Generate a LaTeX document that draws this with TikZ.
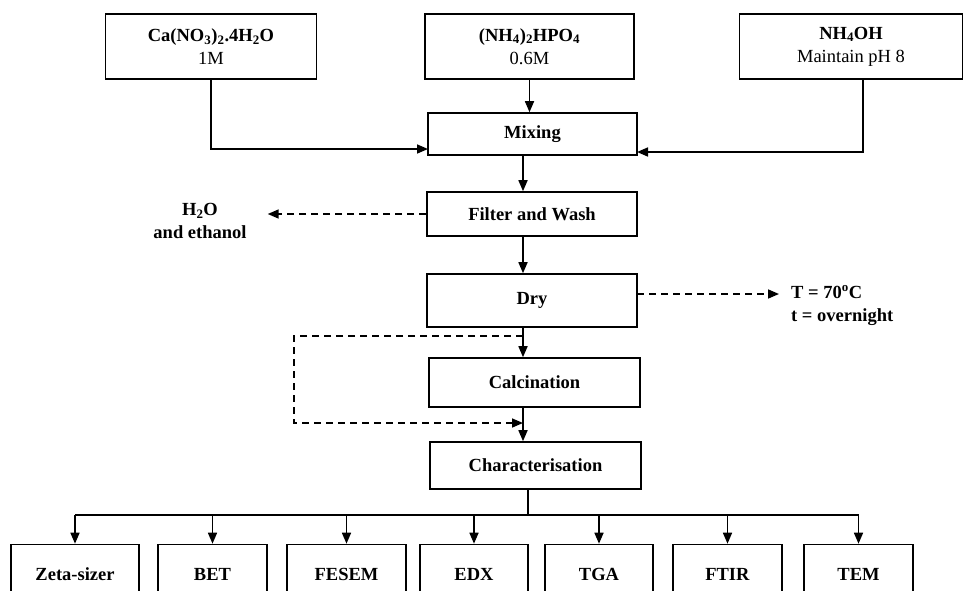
\documentclass[tikz,border=0pt]{standalone}
\usepackage{fontspec}
\setmainfont{Liberation Serif}
\usepackage{tikz}
\usetikzlibrary{arrows.meta,positioning,calc}

\tikzset{
    box/.style={draw, line width=1.6pt, inner sep=0pt, align=center},
    arr/.style={line width=1.6pt, -{Triangle[length=11pt,width=9pt]}},
    dasharr/.style={arr, dash pattern=on 7pt off 5pt},
    conn/.style={line width=1.6pt}
}

\begin{document}
\begin{tikzpicture}[x=1pt, y=-1pt, every node/.style={font=\fontsize{18.5}{23}\selectfont}]
    \useasboundingbox (0,0) rectangle (963,590);
    \clip (0,0) rectangle (963,590);

    % Inputs
    \node[box, minimum width=211pt, minimum height=65pt] (ca) at (211,46.5)
        {\textbf{Ca(NO\textsubscript{3})\textsubscript{2}.4H\textsubscript{2}O}\\1M};
    \node[box, minimum width=209pt, minimum height=65pt] (hpo) at (529.5,46.5)
        {\textbf{(NH\textsubscript{4})\textsubscript{2}HPO\textsubscript{4}}\\0.6M};
    \node[box, minimum width=223pt, minimum height=65pt] (oh) at (851,46.5)
        {\textbf{NH\textsubscript{4}OH}\\Maintain pH 8};

    % Process
    \node[box, minimum width=209pt, minimum height=42pt] (mix) at (532.5,134) {\textbf{Mixing}};
    \node[box, minimum width=210pt, minimum height=44pt] (filt) at (532,214) {\textbf{Filter and Wash}};
    \node[box, minimum width=210pt, minimum height=53pt] (dry) at (532,300.5) {\textbf{Dry}};
    \node[box, minimum width=211pt, minimum height=49pt] (calc) at (534.5,382.5) {\textbf{Calcination}};
    \node[box, minimum width=211pt, minimum height=47pt] (char) at (535.5,465.5) {\textbf{Characterisation}};

    % Side notes
    \node[align=center, inner xsep=21pt] (h2o) at (200,221) {\textbf{H\textsubscript{2}O}\\\textbf{and ethanol}};
    \node[align=left, anchor=west, inner xsep=12pt] (cond) at (779,305.5)
        {\textbf{T = 70\textsuperscript{o}C}\\\textbf{t = overnight}};

    % Techniques
    \node[box, minimum width=128pt, minimum height=60pt] (zeta) at (75,574.5) {\textbf{Zeta-sizer}};
    \node[box, minimum width=109pt, minimum height=60pt] (bet) at (212.5,574.5) {\textbf{BET}};
    \node[box, minimum width=119pt, minimum height=60pt] (fesem) at (346.5,574.5) {\textbf{FESEM}};
    \node[box, minimum width=108pt, minimum height=60pt] (edx) at (474,574.5) {\textbf{EDX}};
    \node[box, minimum width=108pt, minimum height=60pt] (tga) at (599,574.5) {\textbf{TGA}};
    \node[box, minimum width=109pt, minimum height=60pt] (ftir) at (727.5,574.5) {\textbf{FTIR}};
    \node[box, minimum width=109pt, minimum height=60pt] (tem) at (858.5,574.5) {\textbf{TEM}};

    % Helper coordinates
    \coordinate (spine) at (523,0);
    \coordinate (mixinl) at (428,149);
    \coordinate (mixinr) at (637,152);
    \coordinate (ohout) at (863,79);
    \coordinate (dryout) at (637,294);
    \coordinate (loopa) at (523,336);
    \coordinate (loopb) at (523,423);
    \coordinate (bus) at (528,515);

    % Edges
    \draw[arr] (ca.south) |- (mixinl);
    \draw[arr] (ohout) |- (mixinr);
    \draw[arr] (hpo.south) -- (hpo.south |- mix.north);
    \draw[arr] (mix.south -| spine) -- (filt.north -| spine);
    \draw[dasharr] (filt.west) -- (filt.west -| h2o.east);
    \draw[arr] (filt.south -| spine) -- (dry.north -| spine);
    \draw[dasharr] (dryout) -- (dryout -| cond.west);
    \draw[arr] (dry.south -| spine) -- (calc.north -| spine);
    \draw[dasharr] (loopa) -- (294,336) -- (294,423) -- (loopb);
    \draw[arr] (calc.south -| spine) -- (char.north -| spine);
    \draw[conn] (char.south -| bus) -- (bus);
    \draw[conn] (bus -| zeta.north) -- (bus -| tem.north);
    \foreach \t in {zeta,bet,fesem,edx,tga,ftir,tem}
        \draw[arr] (bus -| \t.north) -- (\t.north);
\end{tikzpicture}
\end{document}
